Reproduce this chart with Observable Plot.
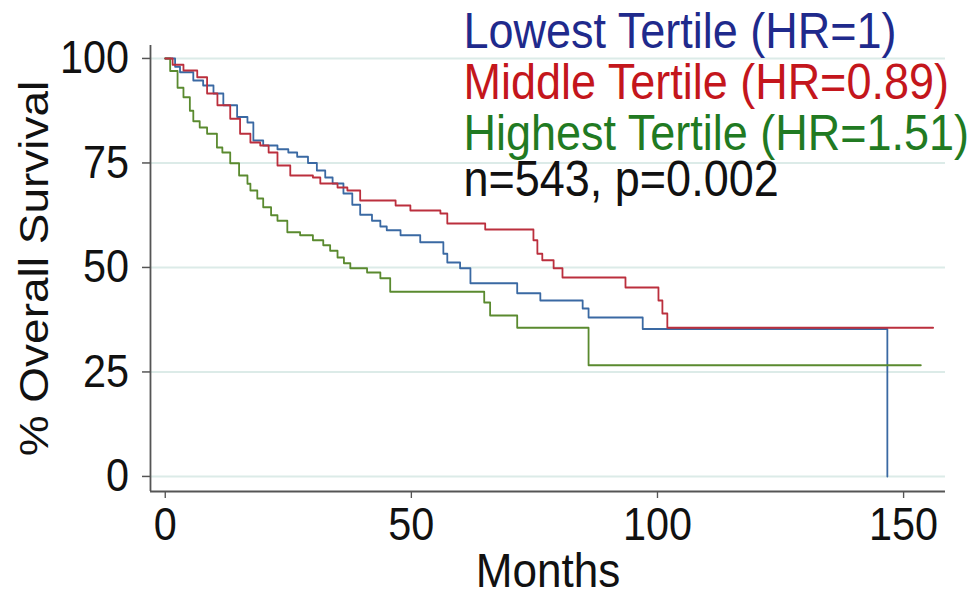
<!DOCTYPE html>
<html><head><meta charset="utf-8">
<script src="https://cdn.jsdelivr.net/npm/d3@7"></script>
<script src="https://cdn.jsdelivr.net/npm/@observablehq/plot@0.6"></script>
<style>
html,body{margin:0;padding:0;background:#fff;overflow:hidden;width:976px;height:597px}
#wrap{width:1084.4px;height:597px;transform:scaleX(0.9);transform-origin:0 0}
</style></head><body><div id="wrap"></div>
<script>
// Lowest tertile (blue)
const lowT = [0, 2, 3, 5.7, 7.7, 9.8, 11.8, 14.6, 16.7, 17.9, 19.9, 22.8, 25, 26.8, 29, 30.8, 32.5, 34, 36.2, 38, 39.6, 42, 43.7, 45, 47.8, 51.8, 56.5, 57.3, 59.9, 62, 71.5, 76.2, 84.8, 86, 97, 146.7];
const lowS = [100, 98, 96.7, 94.7, 93.5, 91.6, 88.8, 86, 84.7, 80.4, 79.2, 78.3, 77.5, 76.5, 75, 73.2, 71.5, 70.1, 67.7, 65, 62.6, 61.2, 59.8, 58.9, 57.7, 56, 53.3, 51.2, 49.8, 46.2, 43.8, 42.1, 40.2, 38, 35.3, 0];
// Middle tertile (red)
const midT = [0, 1.5, 3.7, 6.5, 8.5, 10.6, 13.2, 15.2, 17.3, 19.3, 21, 22.8, 25.4, 30, 31.5, 35, 37, 39.6, 46.8, 49.8, 55.9, 57.3, 65, 74.8, 75.6, 76.6, 78.9, 80.7, 93.5, 100.2, 101, 102, 156];
const midS = [100, 98.5, 97.1, 95.5, 91.6, 88.8, 85.6, 82, 79.9, 79.2, 77.5, 74.4, 72, 71.5, 70.1, 69.1, 68.4, 66, 64.8, 63.6, 62.9, 60.5, 59.1, 56.5, 53.3, 51.7, 49.8, 47.6, 45.2, 42.1, 39, 35.6, 35.6];
// Highest tertile (green)
const highT = [0, 1, 2.5, 3.7, 5, 5.7, 7, 8.5, 10.5, 11.6, 13.2, 15, 16.7, 17.3, 18.7, 19.9, 21.5, 22.8, 24.8, 27.4, 30, 32.1, 33.5, 35, 36.3, 37.6, 41, 43.7, 45.7, 64.8, 66, 71.5, 86, 153.5];
const highS = [100, 97, 93, 90.7, 87.5, 85, 83.5, 82, 78.7, 77.5, 74.9, 72, 70, 68.4, 66.5, 64.4, 62.5, 61.2, 58.4, 57.7, 56.5, 55.3, 54, 52.4, 51, 49.8, 48.8, 47.4, 44.2, 41.6, 38.5, 35.6, 26.6, 26.6];

const groups = ["Lowest", "Middle", "Highest"];
const curveColors = ["#3a69a3", "#bb2f3d", "#5a8a2f"];
const legendLabels = ["Lowest Tertile (HR=1)", "Middle Tertile (HR=0.89)", "Highest Tertile (HR=1.51)", "n=543, p=0.002"];
const legendColors = ["#1f2a8c", "#c4161c", "#217a22", "#111111"];
const xTicks = [0, 50, 100, 150];
const yTicks = [0, 25, 50, 75, 100];

const xDomain = [-3, 158.5];
const yDomain = [-3.6, 103.1];

function rows(g, T, S) { return T.map((t, i) => ({group: g, t, s: S[i]})); }
const series = [rows(groups[0], lowT, lowS), rows(groups[1], midT, midS), rows(groups[2], highT, highS)];

const marginTop = 45;
const legendBaselines = [48, 99, 150, 196];
const font = "'Liberation Sans', Arial, Helvetica, sans-serif";

const chart = Plot.plot({
  width: 1084.4, height: 597,
  marginLeft: 166.7, marginRight: 34.4, marginTop, marginBottom: 106,
  style: {fontFamily: font, background: "#fff", color: "#111"},
  x: {domain: xDomain},
  y: {domain: yDomain},
  color: {domain: groups, range: curveColors},
  marks: [
    Plot.gridY(yTicks, {stroke: "#dcebe8", strokeOpacity: 1, strokeWidth: 2}),
    Plot.axisX({ticks: xTicks, tickSize: 7, tickPadding: 9, fontSize: 46, stroke: "#555", strokeWidth: 1.5,
      label: null}),
    Plot.axisX({ticks: [], tickSize: 0, fontSize: 49, label: "Months", labelAnchor: "center", labelOffset: 96, labelArrow: "none"}),
    Plot.axisY({ticks: yTicks, tickSize: 8.9, tickPadding: 15, fontSize: 46, stroke: "#555", strokeWidth: 1.5,
      label: null}),
    Plot.axisY({ticks: [], tickSize: 0, fontSize: 46, label: "% Overall Survival", labelAnchor: "center", labelOffset: 146.4, labelArrow: "none"}),
    Plot.ruleX([xDomain[0]], {stroke: "#555", strokeWidth: 2}),
    Plot.ruleY([yDomain[0]], {stroke: "#555", strokeWidth: 2}),
    Plot.line(series[0], {x: "t", y: "s", stroke: "group", curve: "step-after", strokeWidth: 2}),
    Plot.line(series[2], {x: "t", y: "s", stroke: "group", curve: "step-after", strokeWidth: 2}),
    Plot.line(series[1], {x: "t", y: "s", stroke: "group", curve: "step-after", strokeWidth: 2}),
    ...legendLabels.map((label, i) => Plot.text([label], {
      text: d => d, frameAnchor: "top-left", textAnchor: "start", lineAnchor: "bottom",
      dx: 347.8, dy: legendBaselines[i] - marginTop, fill: legendColors[i], fontSize: 50
    }))
  ]
});
document.getElementById("wrap").appendChild(chart);
</script></body></html>
